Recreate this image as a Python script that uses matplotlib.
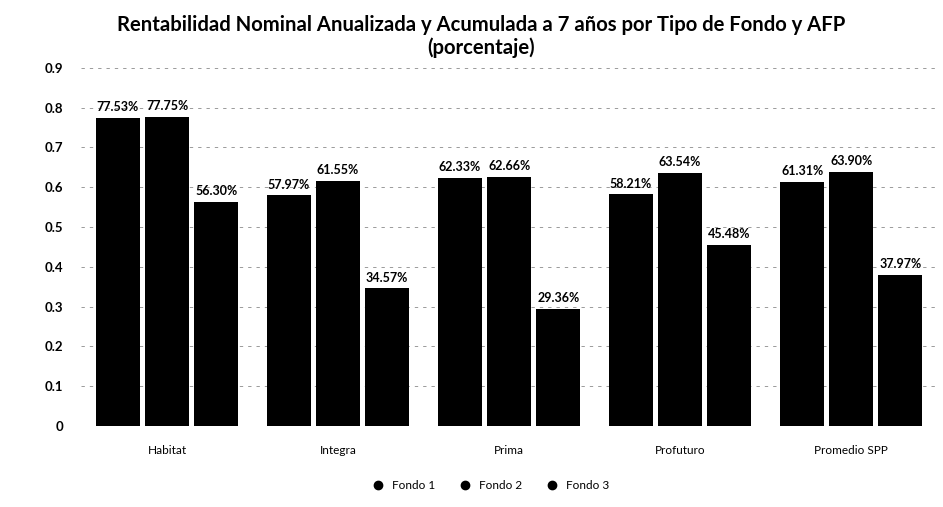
import matplotlib as mpl
mpl.use('Agg')
from matplotlib import pyplot as plt
import numpy as np

mpl.rcParams['font.family'] = ['Lato', 'DejaVu Sans']

afps = ['Habitat', 'Integra', 'Prima', 'Profuturo', 'Promedio SPP']
fondo1 = [77.53, 57.97, 62.33, 58.21, 61.31]
fondo2 = [77.75, 61.55, 62.66, 63.54, 63.90]
fondo3 = [56.30, 34.57, 29.36, 45.48, 37.97]
series_labels = ['Fondo 1', 'Fondo 2', 'Fondo 3']
title = 'Rentabilidad Nominal Anualizada y Acumulada a 7 años por Tipo de Fondo y AFP\n(porcentaje)'


def main():
    fig = plt.figure(figsize=(9.43, 5.07), dpi=100)
    ax = fig.add_axes([0.0864, 0.160, 0.907, 0.706])

    x = np.arange(len(afps))
    width = 0.258
    step = 0.287

    for i, (vals, lab) in enumerate(zip([fondo1, fondo2, fondo3], series_labels)):
        frac = np.array(vals) / 100.0
        pos = x + (i - 1) * step
        ax.bar(pos, frac, width=width, color='black', label=lab, zorder=2)
        for px, v in zip(pos, vals):
            ax.text(px, v / 100.0 + 0.012, '{:.2f}%'.format(v), ha='center', va='bottom',
                    fontsize=9, fontweight='bold', color='black')

    ax.set_xlim(-0.5, len(afps) - 0.5)
    ax.set_ylim(0, 0.9)
    ax.set_yticks(np.arange(0, 0.91, 0.1))
    ax.set_yticklabels(['0'] + ['{:.1f}'.format(v) for v in np.arange(0.1, 0.91, 0.1)])
    ax.set_xticks(x)
    ax.set_xticklabels(afps)

    # the scan only shows faint bits of the gridlines
    ax.yaxis.grid(True, color='#8a8a8a', linestyle=(0, (4, 6)), linewidth=0.6)
    ax.set_axisbelow(True)
    for s in ['top', 'right', 'bottom', 'left']:
        ax.spines[s].set_visible(False)
    ax.tick_params(axis='both', which='both', length=0)
    ax.tick_params(axis='y', labelsize=9.5, pad=13)
    ax.tick_params(axis='x', labelsize=8.5, pad=14)
    for t in ax.get_yticklabels():
        t.set_fontweight('bold')

    fig.text(0.510, 0.928, title, ha='center', va='center', fontsize=14.6,
             fontweight='bold', linespacing=1.15)

    handles = [plt.Line2D([], [], marker='o', color='black', linestyle='none', markersize=6)
               for _ in series_labels]
    fig.legend(handles, series_labels, loc='center', bbox_to_anchor=(0.517, 0.043), ncol=3,
               frameon=False, fontsize=8.5, handletextpad=0.2, columnspacing=1.5)

    fig.savefig('out.png', dpi=100)


if __name__ == '__main__':
    main()
